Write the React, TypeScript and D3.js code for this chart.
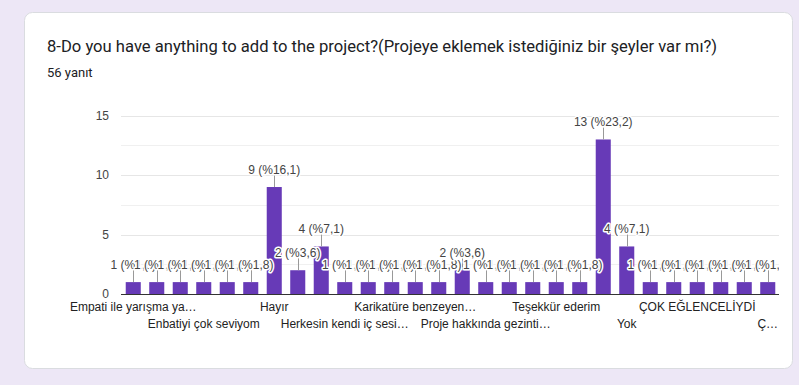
import * as d3 from "d3";
import { useEffect, useRef } from "react";

// answers (alphabetical, as the form lists them)
const categories = [
    "Empati ile yarışma ya…", "En güzel etkinlikti", "Enbatiyi çok sevdim", "Enbatiyi çok seviyom",
    "Eğlenceliydi", "Güzeldi", "Hayır", "Hayır yok", "Hayır.", "Herkesin kendi iç sesi…",
    "Hiçbir şey", "Hiçbir şey yok", "Karikatüre benzeyen…", "Mükemmeldi", "Proje güzeldi",
    "Proje hakkında gezinti…", "Süperdi", "Teşekkürler", "Teşekkür ederim", "Tşk", "yok",
    "Yok", "Yok.", "Yoktur", "ÇOK EĞLENCELİYDİ", "Çok eğlenceliydi", "Çok güzel", "Ç…",
];
const counts = [1, 1, 1, 1, 1, 1, 9, 2, 4, 1, 1, 1, 1, 1, 2, 1, 1, 1, 1, 1, 13, 4, 1, 1, 1, 1, 1, 1];
const yTicks = [0, 5, 10, 15];
const minorTicks = [2.5, 7.5, 12.5];

const title = "8-Do you have anything to add to the project?(Projeye eklemek istediğiniz bir şeyler var mı?)";
const subtitle = "56 yanıt";

const W = 799, H = 385;

const Chart = () => {
    const ref = useRef<SVGSVGElement | null>(null);

    useEffect(() => {
        if (!ref.current) return;
        const svg = d3.select(ref.current);
        svg.selectAll("*").remove();

        const total = d3.sum(counts);

        // page + card
        svg.append("rect").attr("width", W).attr("height", H).attr("fill", "#ede7f6");
        svg.append("rect")
            .attr("x", 24.5).attr("y", 12.5).attr("width", 768).attr("height", 356)
            .attr("rx", 8).attr("fill", "#fff").attr("stroke", "#dadce0");

        svg.append("text")
            .attr("x", 47).attr("y", 51.5)
            .style("font-family", "Roboto, sans-serif").style("font-size", "16.6px")
            .attr("fill", "#202124")
            .text(title);
        svg.append("text")
            .attr("x", 47).attr("y", 77)
            .style("font-family", "Roboto, sans-serif").style("font-size", "13px")
            .attr("fill", "#202124")
            .text(subtitle);

        // annotations are clipped at the chart's right edge
        svg.append("defs").append("clipPath").attr("id", "annClip")
            .append("rect").attr("x", 0).attr("y", 0).attr("width", 779).attr("height", H);

        const x = d3.scaleBand<number>()
            .domain(d3.range(categories.length))
            .range([121.5, 779.5])
            .paddingInner(0.36)
            .paddingOuter(0.18);
        const y = d3.scaleLinear().domain([0, 15]).range([294, 115.7]);

        const font = "Arial, 'Liberation Sans', sans-serif";
        const g = svg.append("g").style("font-family", font).style("font-size", "12px");

        // gridlines
        g.selectAll(".minor").data(minorTicks).join("line")
            .attr("x1", 121).attr("x2", 779)
            .attr("y1", d => Math.round(y(d)) + 0.5).attr("y2", d => Math.round(y(d)) + 0.5)
            .attr("stroke", "#f0f0f0");
        g.selectAll(".major").data(yTicks.filter(t => t > 0)).join("line")
            .attr("x1", 121).attr("x2", 779)
            .attr("y1", d => Math.round(y(d)) + 0.5).attr("y2", d => Math.round(y(d)) + 0.5)
            .attr("stroke", "#e6e6e6");

        g.selectAll(".ytick").data(yTicks).join("text")
            .attr("x", 109).attr("y", d => y(d) + 4)
            .attr("text-anchor", "end").attr("fill", "#444")
            .text(d => d);

        // bars
        g.selectAll(".bar").data(counts).join("rect")
            .attr("x", (_, i) => x(i)!)
            .attr("y", d => y(d))
            .attr("width", x.bandwidth())
            .attr("height", d => y(0) - y(d))
            .attr("fill", "#673ab7");

        // baseline
        g.append("line")
            .attr("x1", 121).attr("x2", 779)
            .attr("y1", 294.5).attr("y2", 294.5)
            .attr("stroke", "#333");

        // annotations: stem + haloed text, later ones on top
        const ann = g.append("g").attr("clip-path", "url(#annClip)");
        counts.forEach((d, i) => {
            const cx = x(i)! + x.bandwidth() / 2;
            const top = y(d);
            ann.append("line")
                .attr("x1", Math.round(cx) + 0.5).attr("x2", Math.round(cx) + 0.5)
                .attr("y1", top).attr("y2", top - 12)
                .attr("stroke", "#999");
            const pct = d3.format(".1f")((d / total) * 100).replace(".", ",");
            ann.append("text")
                .attr("x", cx).attr("y", top - 13)
                .attr("text-anchor", "middle")
                .attr("fill", "#444")
                .attr("stroke", "#fff").attr("stroke-width", 3)
                .attr("stroke-linejoin", "round")
                .style("paint-order", "stroke")
                .text(`${d} (%${pct})`);
        });

        // category labels: every third, alternating rows
        g.selectAll(".xlab").data(categories.map((c, i) => ({ c, i })).filter(o => o.i % 3 === 0)).join("text")
            .attr("x", o => x(o.i)! + x.bandwidth() / 2)
            .attr("y", o => (o.i / 3) % 2 === 0 ? 311 : 327.5)
            .attr("text-anchor", "middle")
            .attr("fill", "#222")
            .text(o => o.c);
    }, []);

    return <svg width={W} height={H} ref={ref} style={{ position: "absolute", left: 0, top: 0 }} />;
};

export default function App() {
    return <Chart />;
}
